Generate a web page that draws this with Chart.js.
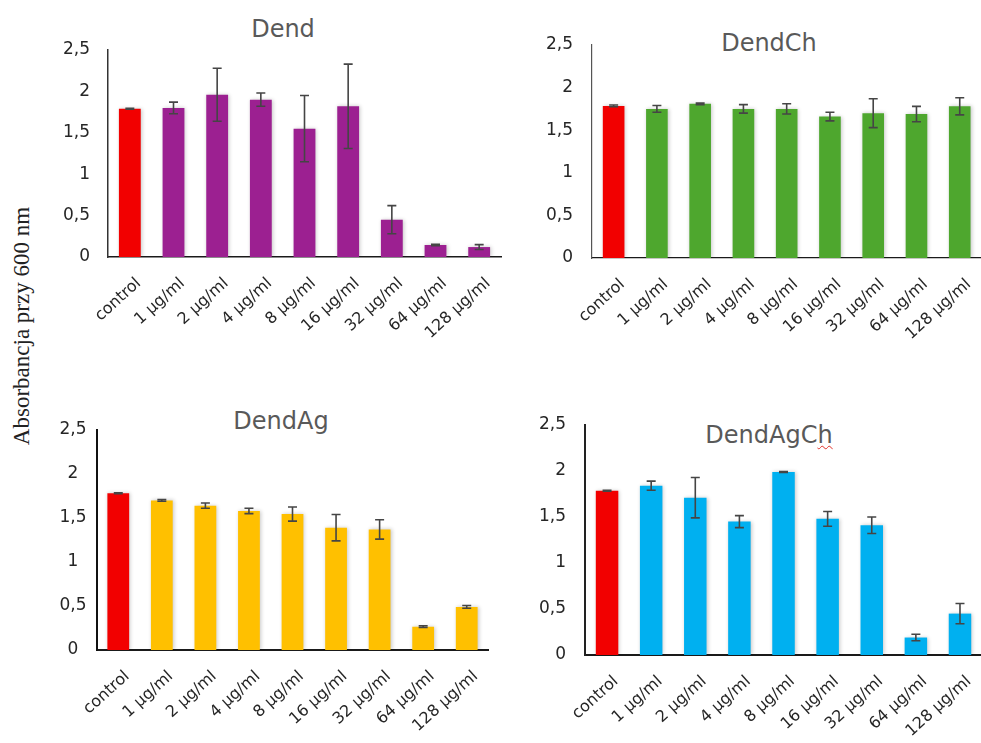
<!DOCTYPE html>
<html lang="pl">
<head>
<meta charset="utf-8">
<title>Absorbancja przy 600 nm</title>
<script src="https://cdn.jsdelivr.net/npm/chart.js@4.4.1/dist/chart.umd.min.js"></script>
<style>
  html, body { margin: 0; padding: 0; background: #fff; }
  body { width: 981px; height: 743px; overflow: hidden; position: relative; }
  canvas { position: absolute; }
  .ttl { position: absolute; font-family: "DejaVu Sans", sans-serif; font-size: 24px; color: #595959;
         transform: translate(-50%, -50%); white-space: nowrap; line-height: 1; }
  .spell { text-decoration: underline wavy #e0302a; text-decoration-thickness: 1px; text-underline-offset: 2px; }
  #ylab { position: absolute; left: 22px; top: 326px; font-family: "Liberation Serif", "Times New Roman", serif;
          font-size: 23px; color: #222; transform: translate(-50%, -50%) rotate(-90deg); white-space: nowrap; }
</style>
</head>
<body>
<div id="ylab">Absorbancja przy 600 nm</div>
<div class="ttl" style="left:283px; top:29px;">Dend</div>
<div class="ttl" style="left:769px; top:43px;">DendCh</div>
<div class="ttl" style="left:281px; top:421px;">DendAg</div>
<div class="ttl" style="left:769px; top:435px;">DendAgC<span class="spell">h</span></div>

<canvas id="cDend" width="470" height="380" style="left:40px; top:0px;"></canvas>
<canvas id="cDendCh" width="470" height="380" style="left:520px; top:0px;"></canvas>
<canvas id="cDendAg" width="470" height="363" style="left:40px; top:380px;"></canvas>
<canvas id="cDendAgCh" width="470" height="363" style="left:520px; top:380px;"></canvas>

<script>
// Concentrations on the x axis
const categories = ['control', '1 µg/ml', '2 µg/ml', '4 µg/ml', '8 µg/ml', '16 µg/ml', '32 µg/ml', '64 µg/ml', '128 µg/ml'];
// Y tick labels (decimal comma)
const yTickValues = [0, 0.5, 1, 1.5, 2, 2.5];
const yTickLabels = ['0', '0,5', '1', '1,5', '2', '2,5'];

// Mean absorbance and error (±) for each compound
const dendMeans      = [1.79, 1.80, 1.96, 1.90, 1.55, 1.82, 0.45, 0.145, 0.12];
const dendErrors     = [0.005, 0.07, 0.32, 0.08, 0.40, 0.51, 0.17, 0.008, 0.03];
const dendChMeans    = [1.785, 1.75, 1.81, 1.75, 1.75, 1.66, 1.70, 1.69, 1.78];
const dendChErrors   = [0.01, 0.04, 0.01, 0.05, 0.06, 0.05, 0.17, 0.09, 0.10];
const dendAgMeans    = [1.78, 1.70, 1.64, 1.58, 1.545, 1.39, 1.37, 0.265, 0.49];
const dendAgErrors   = [0.005, 0.01, 0.03, 0.03, 0.08, 0.15, 0.11, 0.01, 0.015];
const dendAgChMeans  = [1.786, 1.84, 1.71, 1.45, 1.99, 1.48, 1.41, 0.19, 0.45];
const dendAgChErrors = [0.005, 0.05, 0.22, 0.065, 0.005, 0.08, 0.09, 0.035, 0.11];

const controlColor = '#f20000';

// Error bars drawn through the chart's own scales
const errorBarPlugin = {
  id: 'errorBars',
  afterDatasetsDraw(chart, args, opts) {
    const meta = chart.getDatasetMeta(0);
    const ys = chart.scales.y;
    const ctx = chart.ctx;
    const vals = chart.data.datasets[0].data;
    ctx.save();
    ctx.strokeStyle = '#454545';
    ctx.lineWidth = 1.6;
    meta.data.forEach((bar, i) => {
      const e = opts.errors[i];
      const v = vals[i];
      const yTop = ys.getPixelForValue(v + e);
      const yBot = ys.getPixelForValue(Math.max(0, v - e));
      const x = bar.x;
      ctx.beginPath();
      ctx.moveTo(x, yTop); ctx.lineTo(x, yBot);
      ctx.moveTo(x - 4.5, yTop); ctx.lineTo(x + 4.5, yTop);
      ctx.moveTo(x - 4.5, yBot); ctx.lineTo(x + 4.5, yBot);
      ctx.stroke();
    });
    ctx.restore();
  }
};

// Soft shadow under the bars
const barShadowPlugin = {
  id: 'barShadow',
  beforeDatasetsDraw(chart) {
    const ctx = chart.ctx;
    ctx.save();
    ctx.shadowColor = 'rgba(0,0,0,0.22)';
    ctx.shadowBlur = 4;
    ctx.shadowOffsetX = 1;
    ctx.shadowOffsetY = 0;
  },
  afterDatasetsDraw(chart) {
    chart.ctx.restore();
  }
};

function makeChart(id, means, errors, color, box) {
  const colors = means.map((_, i) => i === 0 ? controlColor : color);
  return new Chart(document.getElementById(id), {
    type: 'bar',
    data: {
      labels: categories,
      datasets: [{
        data: means,
        backgroundColor: colors,
        borderWidth: 0,
        categoryPercentage: 1,
        barPercentage: box.barPct
      }]
    },
    plugins: [barShadowPlugin, errorBarPlugin],
    options: {
      responsive: false,
      animation: false,
      events: [],
      layout: { padding: { top: box.padTop, right: box.padRight, left: 0, bottom: 0 } },
      plugins: {
        legend: { display: false },
        tooltip: { enabled: false },
        title: { display: false },
        errorBars: { errors: errors }
      },
      scales: {
        x: {
          grid: { display: false, drawTicks: false },
          border: { display: true, color: '#1a1a1a', width: box.axisWidth },
          ticks: {
            autoSkip: false,
            maxRotation: 42,
            minRotation: 42,
            padding: box.xPad,
            labelOffset: 9,
            color: '#262626',
            font: { family: 'DejaVu Sans', size: 16 }
          },
          afterFit(s) { s.height = box.xHeight; }
        },
        y: {
          min: 0,
          max: 2.5,
          afterBuildTicks(s) { s.ticks = yTickValues.map(v => ({ value: v })); },
          grid: { display: false, drawTicks: false },
          border: { display: true, color: box.yAxisColor, width: box.axisWidth },
          ticks: {
            padding: box.yPad,
            crossAlign: box.crossAlign,
            color: '#262626',
            font: { family: 'DejaVu Sans', size: 17 },
            callback: (v, i) => yTickLabels[yTickValues.indexOf(v)]
          },
          afterFit(s) { s.width = box.yWidth; }
        }
      }
    }
  });
}

makeChart('cDend', dendMeans, dendErrors, '#9c2091',
  { padTop: 50, padRight: 9, yWidth: 68, xHeight: 123, barPct: 0.5, xPad: 17, yPad: 18, crossAlign: 'near', axisWidth: 1.5, yAxisColor: '#333' });
makeChart('cDendCh', dendChMeans, dendChErrors, '#4ea72e',
  { padTop: 45, padRight: 7.5, yWidth: 72, xHeight: 122, barPct: 0.5, xPad: 17, yPad: 19, crossAlign: 'near', axisWidth: 1.2, yAxisColor: '#555' });
makeChart('cDendAg', dendAgMeans, dendAgErrors, '#ffc000',
  { padTop: 50, padRight: 21.5, yWidth: 56.5, xHeight: 93, barPct: 0.5, xPad: 17, yPad: 10, crossAlign: 'center', axisWidth: 2, yAxisColor: '#111' });
makeChart('cDendAgCh', dendAgChMeans, dendAgChErrors, '#00b0f0',
  { padTop: 45, padRight: 3, yWidth: 65, xHeight: 88, barPct: 0.51, xPad: 17, yPad: 19, crossAlign: 'near', axisWidth: 2, yAxisColor: '#222' });
</script>
</body>
</html>
